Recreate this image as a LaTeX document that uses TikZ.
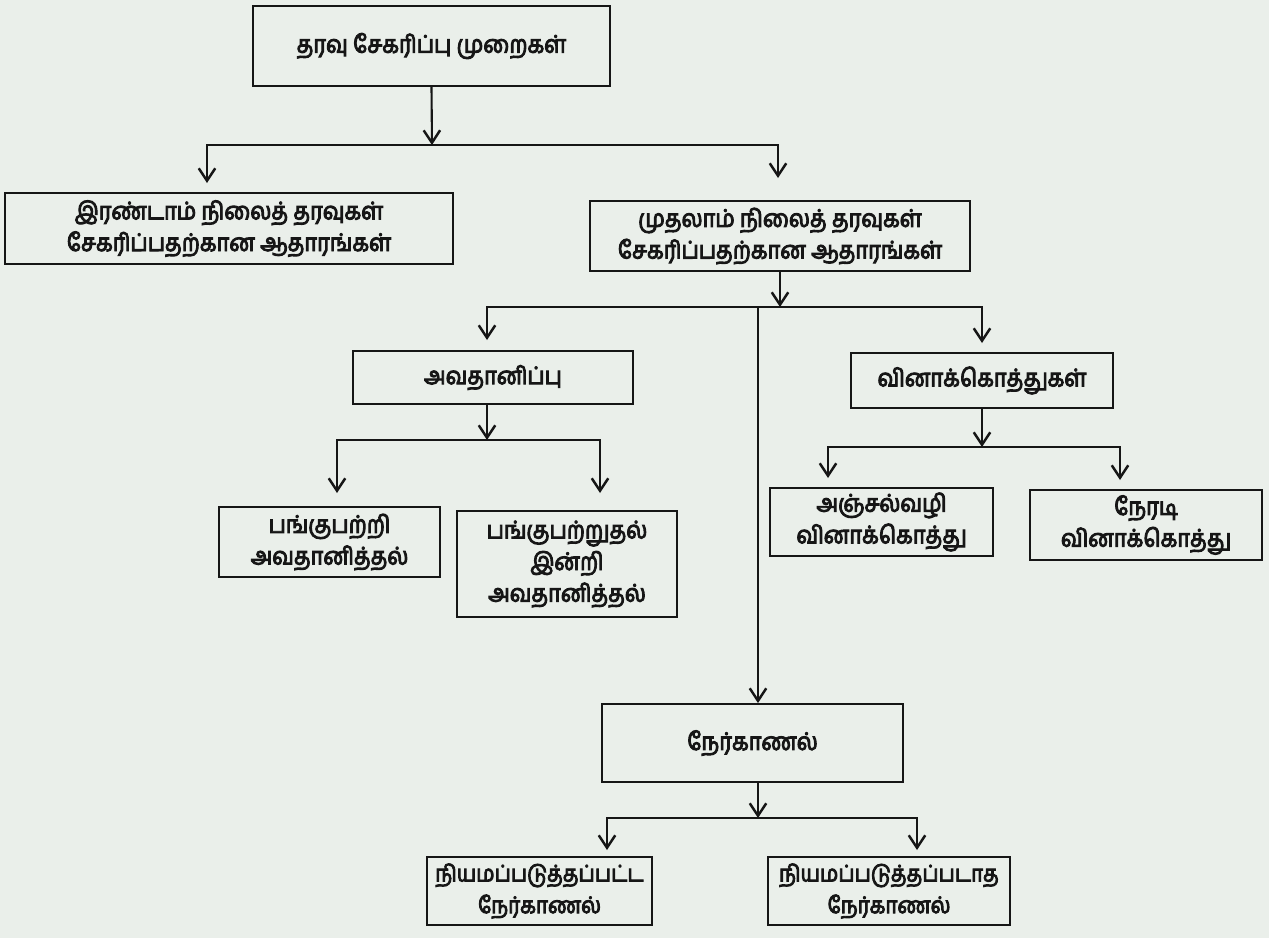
\documentclass[tikz,border=0pt]{standalone}
\usepackage{fontspec}
\newfontfamily\tamil[Script=Tamil,FakeBold=4,FakeStretch=0.9]{Hind Madurai}
\usetikzlibrary{arrows.meta,calc}
\definecolor{paper}{RGB}{234,239,234}
\definecolor{ink}{RGB}{22,22,22}
\begin{document}
\begin{tikzpicture}[x=0.02cm,y=-0.02cm,
  box/.style={draw=ink,line width=1.1pt,fill=paper,inner sep=0pt,align=center,text=ink,
    font=\tamil\fontsize{13.8}{18}\selectfont},
  smallbox/.style={box,font=\tamil\fontsize{13}{18}\selectfont},
  arr/.style={draw=ink,line width=1.2pt,-{Straight Barb[length=2.5mm,width=3.3mm,line width=1.4pt]}}]
\fill[paper] (0,0) rectangle (1269,938);
\useasboundingbox (0,0) rectangle (1269,938);

\node[box,minimum width=7.14cm,minimum height=1.6cm] (top) at (431.5,46) {தரவு சேகரிப்பு முறைகள்};
\node[box,minimum width=8.96cm,minimum height=1.42cm] (sec) at (229,228.5) {இரண்டாம் நிலைத் தரவுகள்\\சேகரிப்பதற்கான ஆதாரங்கள்};
\node[box,minimum width=7.6cm,minimum height=1.4cm] (prim) at (780,236) {முதலாம் நிலைத் தரவுகள்\\சேகரிப்பதற்கான ஆதாரங்கள்};
\node[box,minimum width=5.6cm,minimum height=1.06cm] (avath) at (493,377.5) {அவதானிப்பு};
\node[box,minimum width=5.24cm,minimum height=1.1cm] (vina) at (982,380.5) {வினாக்கொத்துகள்};
\node[box,minimum width=4.42cm,minimum height=1.4cm] (pangu) at (329.5,542) {பங்குபற்றி\\அவதானித்தல்};
\node[box,minimum width=4.4cm,minimum height=2.12cm] (panguin) at (567,564) {பங்குபற்றுதல்\\இன்றி\\அவதானித்தல்};
\node[box,minimum width=4.46cm,minimum height=1.36cm] (anjal) at (881.5,522) {அஞ்சல்வழி\\வினாக்கொத்து};
\node[box,minimum width=4.64cm,minimum height=1.4cm] (neradi) at (1146,525) {நேரடி\\வினாக்கொத்து};
\node[box,minimum width=6.02cm,minimum height=1.56cm] (nerk) at (752.5,743) {நேர்காணல்};
\node[smallbox,minimum width=4.5cm,minimum height=1.36cm] (std) at (539.5,891) {நியமப்படுத்தப்பட்ட\\நேர்காணல்};
\node[smallbox,minimum width=4.84cm,minimum height=1.36cm] (nstd) at (889,891) {நியமப்படுத்தப்படாத\\நேர்காணல்};

% level 1
\coordinate (b1) at (432,145);
\coordinate (e1l) at (207,183);
\coordinate (e1r) at (778,178);
\draw[arr] (top.south) -- (b1);
\draw[arr] (b1) -| (e1l);
\draw[arr] (b1) -| (e1r);

% level 2
\coordinate (b2) at (780,307);
\coordinate (e2l) at (487,340);
\coordinate (e2r) at (982,343);
\coordinate (v) at (758,307);
\draw[arr] (prim.south) -- (b2);
\draw[arr] (b2) -| (e2l);
\draw[arr] (b2) -| (e2r);
\draw[arr] (v) -- (v |- nerk.north);

% observation
\coordinate (b3) at (487,440);
\coordinate (e3l) at (337,493);
\coordinate (e3r) at (600,493);
\draw[arr] (avath.south -| b3) -- (b3);
\draw[arr] (b3) -| (e3l);
\draw[arr] (b3) -| (e3r);

% questionnaires
\coordinate (b4) at (982,447);
\coordinate (e4l) at (828,478);
\coordinate (e4r) at (1120,480);
\draw[arr] (vina.south) -- (b4);
\draw[arr] (b4) -| (e4l);
\draw[arr] (b4) -| (e4r);

% interview
\coordinate (b5) at (758,818);
\coordinate (e5l) at (607,850);
\coordinate (e5r) at (917,850);
\draw[arr] (nerk.south -| b5) -- (b5);
\draw[arr] (b5) -| (e5l);
\draw[arr] (b5) -| (e5r);
\end{tikzpicture}
\end{document}
